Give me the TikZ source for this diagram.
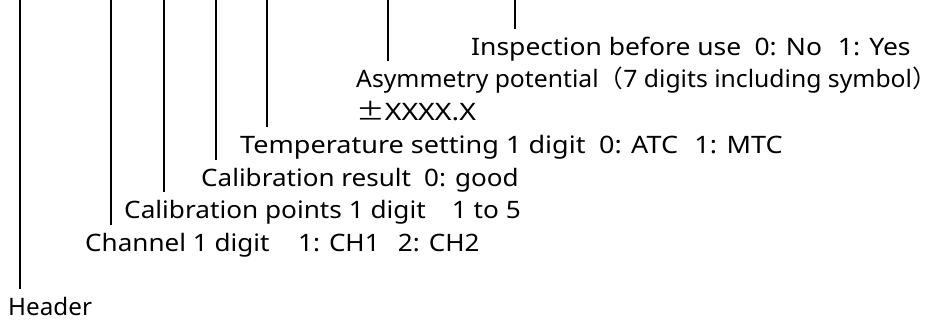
\documentclass[tikz,border=0pt]{standalone}
\usepackage{fontspec}
\setmainfont{Noto Sans}
\newfontfamily\cjk{Noto Sans CJK JP}
% horizontal stretch of a label, keeping its height
\newcommand\hstretch[2]{\scalebox{#1}[1]{#2}}
\begin{document}
\begin{tikzpicture}[x=1pt,y=-1pt,
  lbl/.style={anchor=base west, inner xsep=0pt, inner ysep=8pt,
    text height=18pt, text depth=5pt, font=\fontsize{24}{28}\selectfont},
  lead/.style={line width=1.3pt}]
\useasboundingbox (0,0) rectangle (933,324);

% field descriptions, one per line
\node[lbl] (insp) at (471,55) {\hstretch{1.103}{Inspection before use\hspace{0.5em}0: No\hspace{0.6em}1: Yes}};
\node[lbl] (asym) at (356,87) {\hstretch{1.03}{Asymmetry potential{\cjk（}7 digits including symbol\makebox[0.35em][l]{\cjk）}}};
\node[lbl, inner ysep=0pt] (asymv) at (356,120) {\hstretch{1.19}{{\cjk ±}XXXX.X}};
\node[lbl] (temp) at (240,153) {\hstretch{1.127}{Temperature setting 1 digit\hspace{0.5em}0: ATC\hspace{0.6em}1: MTC}};
\node[lbl] (cres) at (201,186) {\hstretch{1.086}{Calibration result\hspace{0.5em}0: good}};
\node[lbl] (cpts) at (124,218) {\hstretch{1.091}{Calibration points 1 digit\hspace{1em}1 to 5}};
\node[lbl] (chan) at (85,251) {\hstretch{1.086}{Channel 1 digit\hspace{1.1em}1: CH1\hspace{0.7em}2: CH2}};
\node[lbl] (hdr) at (8,315) {\hstretch{1.01}{Header}};

% upper ends of the leader lines
\coordinate (inspTop) at (515,0);
\coordinate (asymTop) at (388,0);
\coordinate (tempTop) at (267,0);
\coordinate (cresTop) at (216,0);
\coordinate (cptsTop) at (164,0);
\coordinate (chanTop) at (111,0);
\coordinate (hdrTop)  at (20,0);

\draw[lead] (inspTop) -- (inspTop |- insp.north);
\draw[lead] (asymTop) -- (asymTop |- asym.north);
\draw[lead] (tempTop) -- (tempTop |- temp.north);
\draw[lead] (cresTop) -- (cresTop |- cres.north);
\draw[lead] (cptsTop) -- (cptsTop |- cpts.north);
\draw[lead] (chanTop) -- (chanTop |- chan.north);
\draw[lead] (hdrTop)  -- (hdrTop |- hdr.north);
\end{tikzpicture}
\end{document}
